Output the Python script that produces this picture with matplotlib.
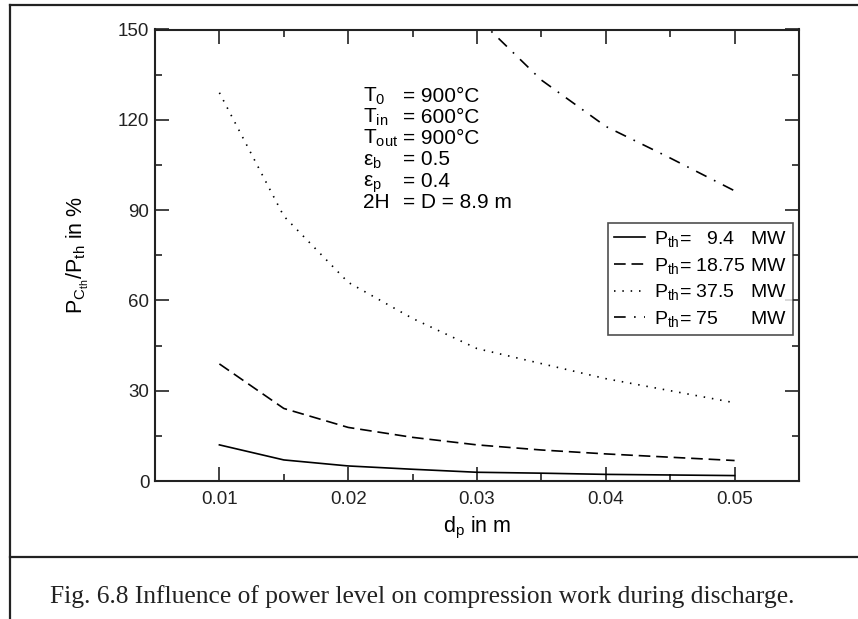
import numpy as np
import matplotlib
matplotlib.use("Agg")
import matplotlib.pyplot as plt
from matplotlib.lines import Line2D
from matplotlib.ticker import MultipleLocator

plt.rcParams['font.family'] = ['Liberation Sans', 'DejaVu Sans']
plt.rcParams['mathtext.fontset'] = 'custom'
plt.rcParams['mathtext.rm'] = 'Liberation Sans'
plt.rcParams['mathtext.it'] = 'Liberation Sans:italic'

# ---- data ----
dp = [0.010, 0.015, 0.020, 0.025, 0.030, 0.035, 0.040, 0.045, 0.050]
p_9_4 = [12.0, 7.0, 5.0, 3.9, 2.9, 2.6, 2.2, 2.0, 1.8]
p_18_75 = [38.9, 24.1, 17.8, 14.5, 12.0, 10.3, 9.0, 7.9, 6.8]
p_37_5 = [129.0, 88.0, 66.0, 54.0, 44.0, 39.0, 34.0, 30.0, 26.0]
dp_75 = [0.030, 0.035, 0.040, 0.045, 0.050]
p_75 = [154.0, 133.2, 117.8, 107.3, 96.4]

labels = [r'$\mathregular{P_{th}}$=   9.4   MW',
          r'$\mathregular{P_{th}}$= 18.75 MW',
          r'$\mathregular{P_{th}}$= 37.5   MW',
          r'$\mathregular{P_{th}}$= 75      MW']

params_left = [r'$\mathregular{T_0}$', r'$\mathregular{T_{in}}$', r'$\mathregular{T_{out}}$',
               r'$\mathregular{\epsilon_b}$', r'$\mathregular{\epsilon_p}$', '2H']
params_right = ['= 900°C', '= 600°C', '= 900°C', '= 0.5', '= 0.4', '= D = 8.9 m']

caption = "Fig. 6.8 Influence of power level on compression work during discharge."

W, H = 858, 619
fig = plt.figure(figsize=(W / 100, H / 100), dpi=100)
ax = fig.add_axes([155 / W, 1 - 481 / H, 644 / W, 451.5 / H])

lw = 1.2
ax.plot(dp, p_9_4, color='black', lw=lw, linestyle='-', label=labels[0])
ax.plot(dp, p_18_75, color='black', lw=lw, linestyle=(0, (7, 3.5)), label=labels[1])
ax.plot(dp, p_37_5, color='black', lw=lw, linestyle=(0, (0.9, 4.1)), label=labels[2])
ax.plot(dp_75, p_75, color='black', lw=lw, linestyle=(0, (7, 5, 1, 5)), label=labels[3])

ax.set_xlim(0.005, 0.055)
ax.set_ylim(0, 150)
ax.set_xticks([0.01, 0.02, 0.03, 0.04, 0.05])
ax.set_xticklabels(['0.01', '0.02', '0.03', '0.04', '0.05'])
ax.xaxis.set_minor_locator(MultipleLocator(0.005))
ax.set_yticks([0, 30, 60, 90, 120, 150])
ax.yaxis.set_minor_locator(MultipleLocator(15))
ax.tick_params(which='both', direction='in', top=True, right=True,
               labelsize=13.5, width=1.2, colors='#222222')
ax.tick_params(axis='x', which='major', length=10, pad=7)
ax.tick_params(axis='y', which='major', length=10, pad=4)
ax.tick_params(which='minor', length=5)
for s in ax.spines.values():
    s.set_linewidth(1.5)
    s.set_color('#222222')

ax.set_xlabel(r'$\mathregular{d_p}$ in m', fontsize=15.5)
ax.xaxis.set_label_coords(0.5, -0.075)
ax.set_ylabel(r'$\mathregular{P_{C_{th}}/P_{th}}$ in %', fontsize=15.5)
ax.yaxis.set_label_coords(-0.10, 0.5)

# parameter block
for i, (a, b) in enumerate(zip(params_left, params_right)):
    yb = 1 - (101.5 + 21.3 * i) / H
    fig.text(363 / W, yb, a, fontsize=15, va='baseline', ha='left')
    fig.text(403 / W, yb, b, fontsize=15, va='baseline', ha='left')

leg = ax.legend(loc='upper right', bbox_to_anchor=(793 / W, 1 - 223 / H),
                bbox_transform=fig.transFigure, fontsize=14, frameon=True,
                fancybox=False, handlelength=1.6, handletextpad=0.5,
                borderpad=0.3, labelspacing=0.35, borderaxespad=0)
leg.get_frame().set_edgecolor('#222222')
leg.get_frame().set_linewidth(1.2)

# outer frame and caption
fr = dict(color='#222222', lw=1.6, transform=fig.transFigure)
fig.add_artist(Line2D([10 / W, 1], [1 - 5 / H, 1 - 5 / H], **fr))
fig.add_artist(Line2D([10 / W, 10 / W], [1 - 5 / H, 0], **fr))
fig.add_artist(Line2D([10 / W, 1], [1 - 557 / H, 1 - 557 / H], **fr))

fig.text(50 / W, 1 - 603 / H, caption, fontsize=18.4, va='baseline', ha='left',
         family='Liberation Serif', color='#222222')

fig.savefig('out.png', dpi=100)
